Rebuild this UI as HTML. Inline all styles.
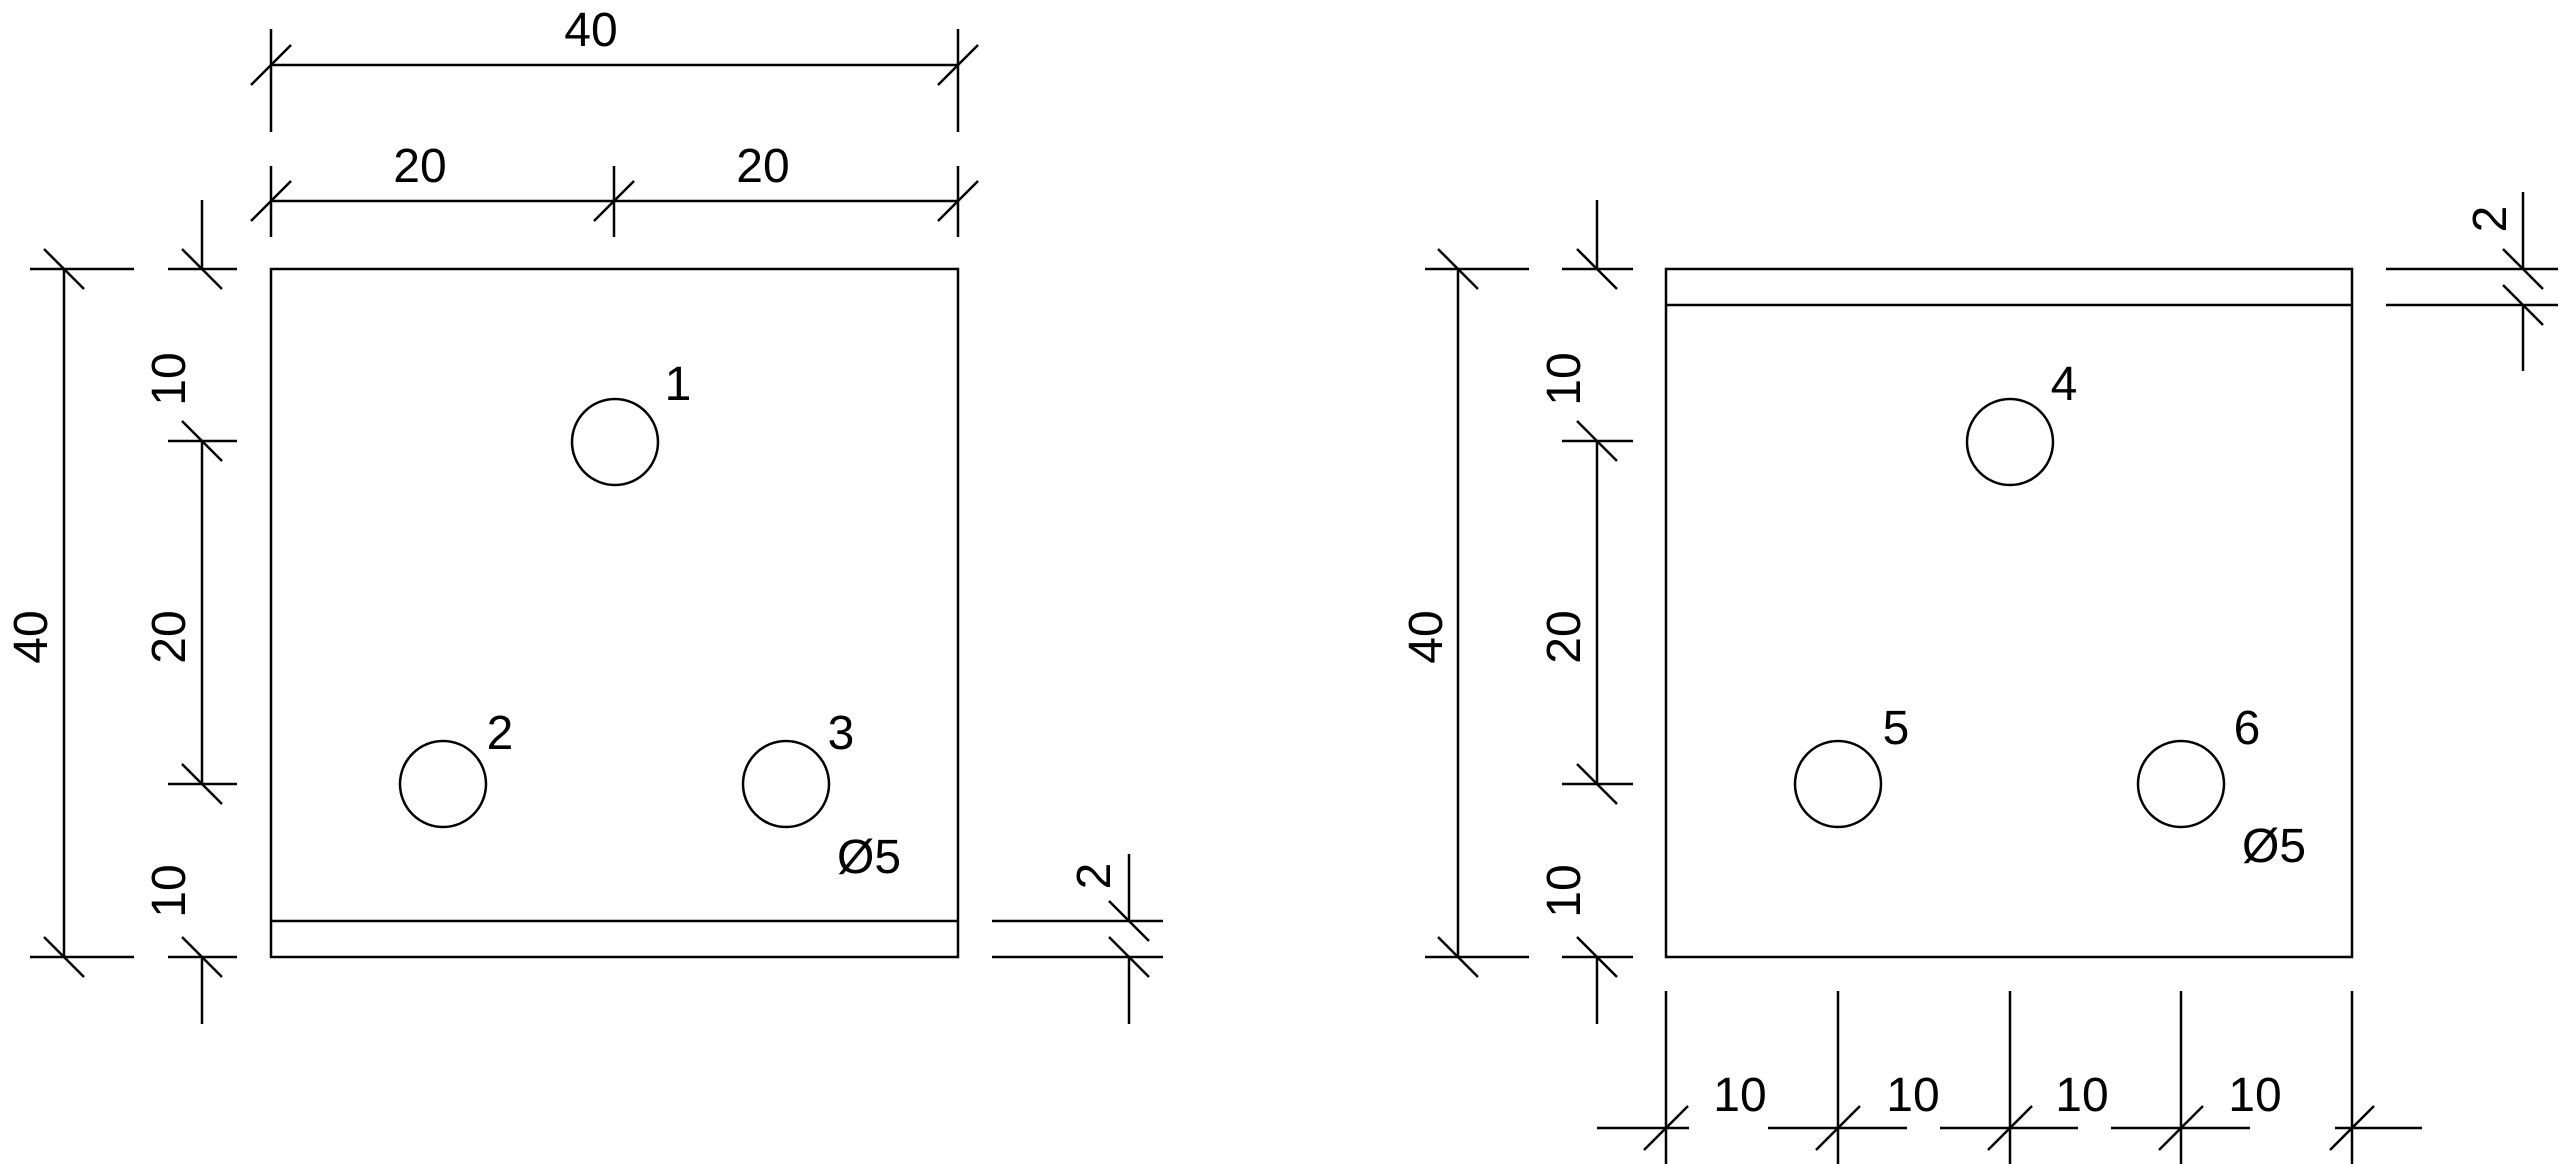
<!DOCTYPE html>
<html><head><meta charset="utf-8"><style>
html,body{margin:0;padding:0;background:#fff;}
svg{display:block}
text{font-family:"Liberation Sans",sans-serif;font-size:48px;fill:#000}
</style></head><body>
<svg width="2560" height="1164" viewBox="0 0 2560 1164" xmlns="http://www.w3.org/2000/svg">
<g stroke="#000" stroke-width="2.5" fill="none">
<!-- LEFT PANEL -->
<rect x="271" y="269" width="687" height="688"/>
<line x1="271" y1="921" x2="958" y2="921"/>
<circle cx="615" cy="442" r="43"/>
<circle cx="443" cy="784" r="43"/>
<circle cx="786" cy="784" r="43"/>
<!-- top 40 -->
<line x1="271" y1="65" x2="958" y2="65"/>
<line x1="271" y1="29" x2="271" y2="132"/>
<line x1="958" y1="29" x2="958" y2="132"/>
<line x1="251" y1="85" x2="291" y2="45"/>
<line x1="938" y1="85" x2="978" y2="45"/>
<!-- 20/20 -->
<line x1="271" y1="201" x2="958" y2="201"/>
<line x1="271" y1="166" x2="271" y2="237"/>
<line x1="614" y1="166" x2="614" y2="237"/>
<line x1="958" y1="166" x2="958" y2="237"/>
<line x1="251" y1="221" x2="291" y2="181"/>
<line x1="594" y1="221" x2="634" y2="181"/>
<line x1="938" y1="221" x2="978" y2="181"/>
<!-- left 40 -->
<line x1="64" y1="269" x2="64" y2="957"/>
<line x1="30" y1="269" x2="134" y2="269"/>
<line x1="30" y1="957" x2="134" y2="957"/>
<line x1="44" y1="249" x2="84" y2="289"/>
<line x1="44" y1="937" x2="84" y2="977"/>
<!-- inner 10/20/10 -->
<line x1="202" y1="200" x2="202" y2="269"/>
<line x1="202" y1="441" x2="202" y2="784"/>
<line x1="202" y1="957" x2="202" y2="1024"/>
<line x1="168" y1="269" x2="237" y2="269"/>
<line x1="168" y1="441" x2="237" y2="441"/>
<line x1="168" y1="784" x2="237" y2="784"/>
<line x1="168" y1="957" x2="237" y2="957"/>
<line x1="182" y1="249" x2="222" y2="289"/>
<line x1="182" y1="421" x2="222" y2="461"/>
<line x1="182" y1="764" x2="222" y2="804"/>
<line x1="182" y1="937" x2="222" y2="977"/>
<!-- right 2 -->
<line x1="992" y1="921" x2="1163" y2="921"/>
<line x1="992" y1="957" x2="1163" y2="957"/>
<line x1="1129" y1="854" x2="1129" y2="921"/>
<line x1="1129" y1="957" x2="1129" y2="1024"/>
<line x1="1109" y1="901" x2="1149" y2="941"/>
<line x1="1109" y1="937" x2="1149" y2="977"/>

<!-- RIGHT PANEL -->
<rect x="1666" y="269" width="686" height="688"/>
<line x1="1666" y1="305" x2="2352" y2="305"/>
<circle cx="2010" cy="442" r="43"/>
<circle cx="1838" cy="784" r="43"/>
<circle cx="2181" cy="784" r="43"/>
<!-- left 40 -->
<line x1="1458" y1="269" x2="1458" y2="957"/>
<line x1="1425" y1="269" x2="1529" y2="269"/>
<line x1="1425" y1="957" x2="1529" y2="957"/>
<line x1="1438" y1="249" x2="1478" y2="289"/>
<line x1="1438" y1="937" x2="1478" y2="977"/>
<!-- inner -->
<line x1="1597" y1="200" x2="1597" y2="269"/>
<line x1="1597" y1="441" x2="1597" y2="784"/>
<line x1="1597" y1="957" x2="1597" y2="1024"/>
<line x1="1562" y1="269" x2="1633" y2="269"/>
<line x1="1562" y1="441" x2="1633" y2="441"/>
<line x1="1562" y1="784" x2="1633" y2="784"/>
<line x1="1562" y1="957" x2="1633" y2="957"/>
<line x1="1577" y1="249" x2="1617" y2="289"/>
<line x1="1577" y1="421" x2="1617" y2="461"/>
<line x1="1577" y1="764" x2="1617" y2="804"/>
<line x1="1577" y1="937" x2="1617" y2="977"/>
<!-- right 2 -->
<line x1="2386" y1="269" x2="2558" y2="269"/>
<line x1="2386" y1="305" x2="2558" y2="305"/>
<line x1="2523" y1="192" x2="2523" y2="269"/>
<line x1="2523" y1="305" x2="2523" y2="371"/>
<line x1="2503" y1="249" x2="2543" y2="289"/>
<line x1="2503" y1="285" x2="2543" y2="325"/>
<!-- bottom 10s -->
<line x1="1597" y1="1128" x2="1689" y2="1128"/>
<line x1="1768" y1="1128" x2="1907" y2="1128"/>
<line x1="1940" y1="1128" x2="2078" y2="1128"/>
<line x1="2111" y1="1128" x2="2250" y2="1128"/>
<line x1="2335" y1="1128" x2="2422" y2="1128"/>
<line x1="1666" y1="991" x2="1666" y2="1164"/>
<line x1="1838" y1="991" x2="1838" y2="1164"/>
<line x1="2010" y1="991" x2="2010" y2="1164"/>
<line x1="2181" y1="991" x2="2181" y2="1164"/>
<line x1="2352" y1="991" x2="2352" y2="1164"/>
<line x1="1644" y1="1150" x2="1688" y2="1106"/>
<line x1="1816" y1="1150" x2="1860" y2="1106"/>
<line x1="1988" y1="1150" x2="2032" y2="1106"/>
<line x1="2159" y1="1150" x2="2203" y2="1106"/>
<line x1="2330" y1="1150" x2="2374" y2="1106"/>
</g>
<g text-anchor="middle">
<text x="591" y="46">40</text>
<text x="420" y="182">20</text>
<text x="763" y="182">20</text>
<text transform="translate(47,637) rotate(-90)">40</text>
<text transform="translate(185,379) rotate(-90)">10</text>
<text transform="translate(185,637) rotate(-90)">20</text>
<text transform="translate(185,891) rotate(-90)">10</text>
<text transform="translate(1110,876) rotate(-90)">2</text>
<text x="678" y="400">1</text>
<text x="500" y="749">2</text>
<text x="841" y="749">3</text>
<text x="869" y="873">Ø5</text>

<text transform="translate(1442,637) rotate(-90)">40</text>
<text transform="translate(1580,379) rotate(-90)">10</text>
<text transform="translate(1580,637) rotate(-90)">20</text>
<text transform="translate(1580,891) rotate(-90)">10</text>
<text transform="translate(2506,219) rotate(-90)">2</text>
<text x="2064" y="400">4</text>
<text x="1896" y="744">5</text>
<text x="2247" y="744">6</text>
<text x="2274" y="862">Ø5</text>
<text x="1740" y="1111">10</text>
<text x="1913" y="1111">10</text>
<text x="2082" y="1111">10</text>
<text x="2255" y="1111">10</text>
</g>
</svg>
</body></html>
